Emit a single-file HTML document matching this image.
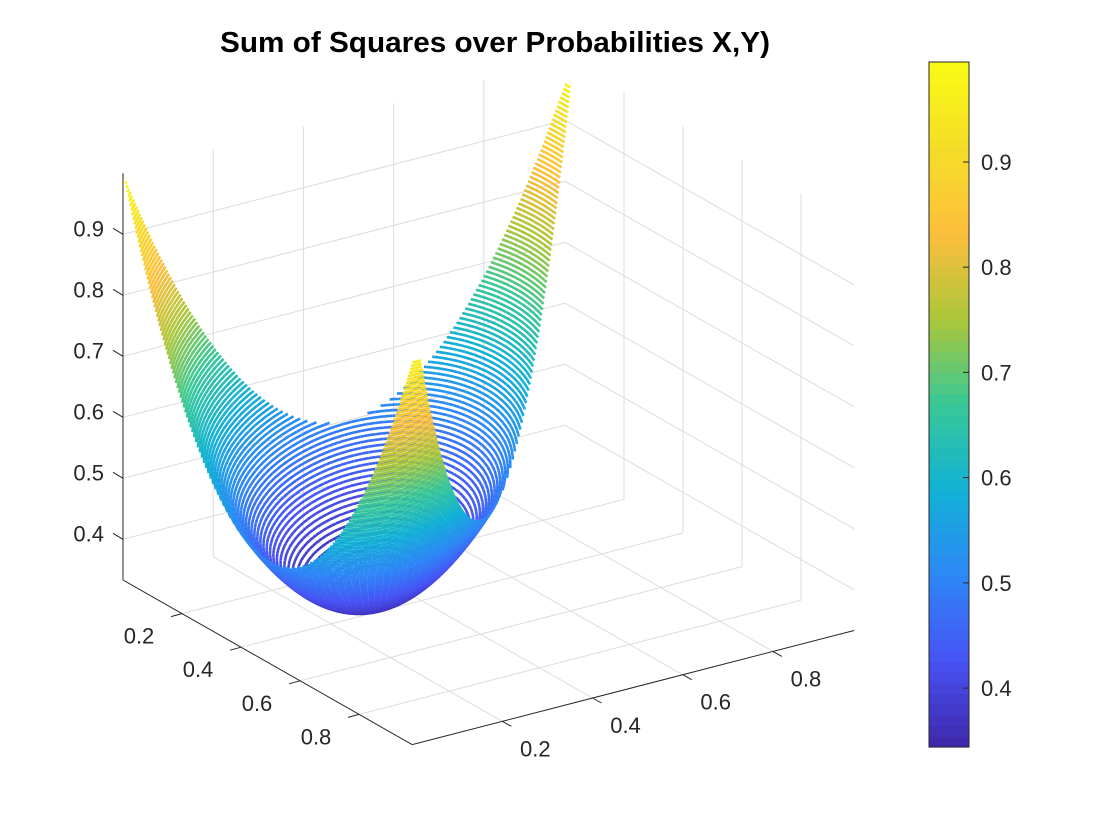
<!DOCTYPE html>
<html><head><meta charset="utf-8">
<style>
html,body{margin:0;padding:0;background:#fff;}
svg{display:block;font-family:"Liberation Sans",Arial,sans-serif;}
</style></head>
<body>
<svg id="chart" width="1120" height="840" viewBox="0 0 1120 840" xmlns="http://www.w3.org/2000/svg">
<rect x="0" y="0" width="1120" height="840" fill="#fff"/>
<text x="495" y="52" text-anchor="middle" font-size="29" font-weight="bold" fill="#000" textLength="550" lengthAdjust="spacingAndGlyphs">Sum of Squares over Probabilities X,Y)</text>
<g id="grid"></g>
<g id="surface"></g>
<g id="axes"></g>
<g id="colorbar"></g>
</svg>
<script>
// data
const xTicks = [0.2, 0.4, 0.6, 0.8];
const yTicks = [0.2, 0.4, 0.6, 0.8];
const zTicks = [0.4, 0.5, 0.6, 0.7, 0.8, 0.9];
const cbTicks = [0.4, 0.5, 0.6, 0.7, 0.8, 0.9];
const probRange = [0, 0.98];
const zRange = [1/3, 1.0];
const colorRange = [0.344, 0.995];
const levelCount = 100;
// sum of squares of the probability vector (x, y, 1-x-y)
function sumSquares(x, y){ return x*x + y*y + (1-x-y)*(1-x-y); }

const NS = "http://www.w3.org/2000/svg";
const X0 = 123, Y0 = 580;
function proj(x, y, z){
  return [X0 + x*451 + y*295, Y0 - x*116.5 + y*168 - (z - zRange[0])*610];
}
function depth(x, y, z){ return -0.18*x + 0.275*y + 0.11*z; }
function mk(tag, attrs, parent){
  const e = document.createElementNS(NS, tag);
  for (const k in attrs) e.setAttribute(k, attrs[k]);
  parent.appendChild(e);
  return e;
}
const parulaStops = [
 [0,0.2422,0.1504,0.6603],[0.125,0.2810,0.3228,0.9578],[0.25,0.1786,0.5289,0.9682],
 [0.375,0.0689,0.6948,0.8394],[0.5,0.2161,0.7843,0.5923],[0.625,0.6720,0.7793,0.2227],
 [0.75,0.9932,0.7456,0.2394],[0.875,0.9606,0.8683,0.1541],[1,0.9769,0.9839,0.0805]];
function parula(t){
  t = Math.max(0, Math.min(1, t));
  for (let i=0;i<parulaStops.length-1;i++){
    const a=parulaStops[i], b=parulaStops[i+1];
    if (t<=b[0]){
      const f=(t-a[0])/(b[0]-a[0]);
      const c=[1,2,3].map(j=>Math.round(255*(a[j]+(b[j]-a[j])*f)));
      return `rgb(${c[0]},${c[1]},${c[2]})`;
    }
  }
  return "rgb(249,251,20)";
}

// grid
const grid = document.getElementById('grid');
const gc = "#dcdcdc";
function gline(p, q, name){
  const l = mk('line', {x1:p[0].toFixed(1), y1:p[1].toFixed(1), x2:q[0].toFixed(1), y2:q[1].toFixed(1), stroke:gc, 'stroke-width':1}, grid);
  
  
}
const pm = probRange[1];
xTicks.forEach(t=>{
  gline(proj(t,0,zRange[0]), proj(t,0,zRange[1]), 'x-gridline-back');
  gline(proj(t,0,zRange[0]), proj(t,pm,zRange[0]), 'x-gridline-floor');
});
yTicks.forEach(t=>{
  gline(proj(pm,t,zRange[0]), proj(pm,t,zRange[1]), 'y-gridline-back');
  gline(proj(0,t,zRange[0]), proj(pm,t,zRange[0]), 'y-gridline-floor');
});
zTicks.forEach(t=>{
  gline(proj(0,0,t), proj(pm,0,t), 'z-gridline-left');
  gline(proj(pm,0,t), proj(pm,pm,t), 'z-gridline-right');
});

// contours
const surf = document.getElementById('surface');
const pieces = [];
for (let k=0;k<levelCount;k++){
  const c = colorRange[0] + (k+0.5)*(colorRange[1]-colorRange[0])/levelCount;
  const r = (c - 1/3)/2;
  if (r<=0) continue;
  const A = Math.sqrt(r/1.5), B = Math.sqrt(r/0.5);
  const n = 3000;
  let run = [];
  const runs = [];
  for (let i=0;i<=n;i++){
    const th = 2*Math.PI*i/n;
    const a = A*Math.cos(th), b = B*Math.sin(th);
    const x = 1/3 + (a-b)/Math.SQRT2, y = 1/3 + (a+b)/Math.SQRT2;
    const inside = x>=probRange[0] && y>=probRange[0] && x<=pm && y<=pm && x+y<=1;
    if (inside) run.push([x,y]);
    else { if (run.length>1) runs.push(run); run=[]; }
  }
  if (run.length>1) runs.push(run);
  const col = parula((c-colorRange[0])/(colorRange[1]-colorRange[0]));
  runs.forEach(rn=>{
    for (let s=0;s<rn.length-1;s+=30){
      const seg = rn.slice(s, Math.min(rn.length, s+31));
      let d=0; seg.forEach(p=>d+=depth(p[0],p[1],c)); d/=seg.length;
      pieces.push({seg, c, col, d});
    }
  });
}
pieces.sort((a,b)=>a.d-b.d);
pieces.forEach(p=>{
  const pts = p.seg.filter((q,i)=>i%3===0||i===p.seg.length-1).map(q=>{const s=proj(q[0],q[1],p.c);return s[0].toFixed(1)+','+s[1].toFixed(1);}).join(' ');
  const el = mk('polyline', {points:pts, fill:'none', stroke:p.col, 'stroke-width':2.6}, surf);
  
  
});

// axes
const axes = document.getElementById('axes');
function aline(p, q, name){
  const l = mk('line', {x1:p[0].toFixed(1), y1:p[1].toFixed(1), x2:q[0].toFixed(1), y2:q[1].toFixed(1), stroke:'#262626', 'stroke-width':1}, axes);
  
  
}
function label(x, y, txt, anchor, name){
  const t = mk('text', {x:x, y:y, 'text-anchor':anchor, 'font-size':22, fill:'#262626'}, axes);
  t.textContent = txt;
  
  
}
aline(proj(0,0,zRange[0]), proj(0,0,zRange[1]), 'z-axis');
aline(proj(0,0,zRange[0]), proj(0,pm,zRange[0]), 'y-axis');
aline(proj(0,pm,zRange[0]), proj(pm,pm,zRange[0]), 'x-axis');
zTicks.forEach(t=>{
  const p = proj(0,0,t);
  aline(p, [p[0]-10, p[1]-6], 'z-tick');
  label(p[0]-19, p[1]+2, t.toFixed(1), 'end', 'z-tick-label');
});
yTicks.forEach(t=>{
  const p = proj(0,t,zRange[0]);
  aline(p, [p[0]-11, p[1]+3], 'y-tick');
  label(p[0]-43, p[1]+30, t.toFixed(1), 'middle', 'y-tick-label');
});
xTicks.forEach(t=>{
  const p = proj(t,pm,zRange[0]);
  aline(p, [p[0]+9, p[1]+5], 'x-tick');
  label(p[0]+33, p[1]+35, t.toFixed(1), 'middle', 'x-tick-label');
});

// colorbar
const cb = document.getElementById('colorbar');
const cbX = 929, cbW = 40, cbTop = 62, cbBot = 747;
function cbY(v){ return cbBot - (v-colorRange[0])/(colorRange[1]-colorRange[0])*(cbBot-cbTop); }
const bands = 64;
for (let i=0;i<bands;i++){
  const y1 = cbBot - (i+1)*(cbBot-cbTop)/bands, h = (cbBot-cbTop)/bands;
  const r = mk('rect', {x:cbX, y:y1.toFixed(2), width:cbW, height:(h+0.6).toFixed(2), fill:parula((i+0.5)/bands)}, cb);
  
  
}
const frame = mk('rect', {x:cbX, y:cbTop, width:cbW, height:cbBot-cbTop, fill:'none', stroke:'#262626', 'stroke-width':1}, cb);


cbTicks.forEach(t=>{
  const y = cbY(t);
  const l = mk('line', {x1:cbX+cbW-6, y1:y.toFixed(1), x2:cbX+cbW, y2:y.toFixed(1), stroke:'#262626', 'stroke-width':1}, cb);
  
  
  const tx = mk('text', {x:981, y:(y+8).toFixed(1), 'font-size':22, fill:'#262626'}, cb);
  tx.textContent = t.toFixed(1);
  
  
});
</script>
</body></html>
